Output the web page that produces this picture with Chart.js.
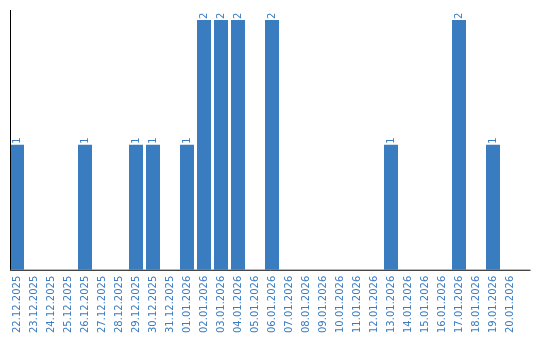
<!DOCTYPE html>
<html>
<head>
<meta charset="utf-8">
<script src="https://cdn.jsdelivr.net/npm/chart.js@4.4.1/dist/chart.umd.min.js"></script>
<style>
  body { margin: 0; background: #fff; }
  canvas { display: block; }
</style>
</head>
<body>
<canvas id="myChart" width="540" height="340"></canvas>
<script>
// daily counts, 22.12.2025 .. 20.01.2026
const days = [
    "22.12.2025", "23.12.2025", "24.12.2025", "25.12.2025", "26.12.2025",
    "27.12.2025", "28.12.2025", "29.12.2025", "30.12.2025", "31.12.2025",
    "01.01.2026", "02.01.2026", "03.01.2026", "04.01.2026", "05.01.2026",
    "06.01.2026", "07.01.2026", "08.01.2026", "09.01.2026", "10.01.2026",
    "11.01.2026", "12.01.2026", "13.01.2026", "14.01.2026", "15.01.2026",
    "16.01.2026", "17.01.2026", "18.01.2026", "19.01.2026", "20.01.2026",
];
const counts = [
    1, 0, 0, 0, 1,
    0, 0, 1, 1, 0,
    1, 2, 2, 2, 0,
    2, 0, 0, 0, 0,
    0, 0, 1, 0, 0,
    0, 2, 0, 1, 0,
];

const blue = "#3a7cc0";
const labelFont = "10px 'DejaVu Sans'";

// value labels above bars + the two black axis lines
const extras = {
    id: "extras",
    afterDatasetsDraw(chart) {
        const ctx = chart.ctx;
        const area = chart.chartArea;
        const meta = chart.getDatasetMeta(0);
        ctx.save();
        ctx.fillStyle = blue;
        ctx.font = labelFont;
        ctx.textAlign = "left";
        ctx.textBaseline = "middle";
        meta.data.forEach((bar, i) => {
            if (!counts[i]) return;
            ctx.save();
            ctx.translate(bar.x, bar.y - 1);
            ctx.rotate(-Math.PI / 2);
            ctx.fillText(String(counts[i]), 0, 0);
            ctx.restore();
        });
        ctx.strokeStyle = "#000";
        ctx.lineWidth = 1;
        ctx.beginPath();
        ctx.moveTo(area.left + 2, area.top);
        ctx.lineTo(area.left + 2, area.bottom);
        ctx.moveTo(area.left + 1.5, area.bottom + 0.5);
        ctx.lineTo(area.right + 12, area.bottom + 0.5);
        ctx.stroke();
        ctx.restore();
    },
};

new Chart("myChart", {
    type: "bar",
    data: {
        labels: days,
        datasets: [
            {
                data: counts,
                backgroundColor: blue,
                barPercentage: 14 / 17,
                categoryPercentage: 1,
            },
        ],
    },
    options: {
        responsive: false,
        animation: false,
        layout: { padding: { top: 10, left: 8.5, right: 21.5, bottom: 1 } },
        plugins: {
            legend: { display: false },
            tooltip: { enabled: false },
        },
        scales: {
            x: {
                grid: { display: false, drawTicks: false },
                border: { display: false },
                ticks: {
                    color: blue,
                    font: { family: "DejaVu Sans", size: 10 },
                    minRotation: 90,
                    maxRotation: 90,
                    autoSkip: false,
                    padding: 6,
                },
            },
            y: {
                display: false,
                min: 0,
                max: 2.08,
            },
        },
    },
    plugins: [extras],
});
</script>
</body>
</html>
